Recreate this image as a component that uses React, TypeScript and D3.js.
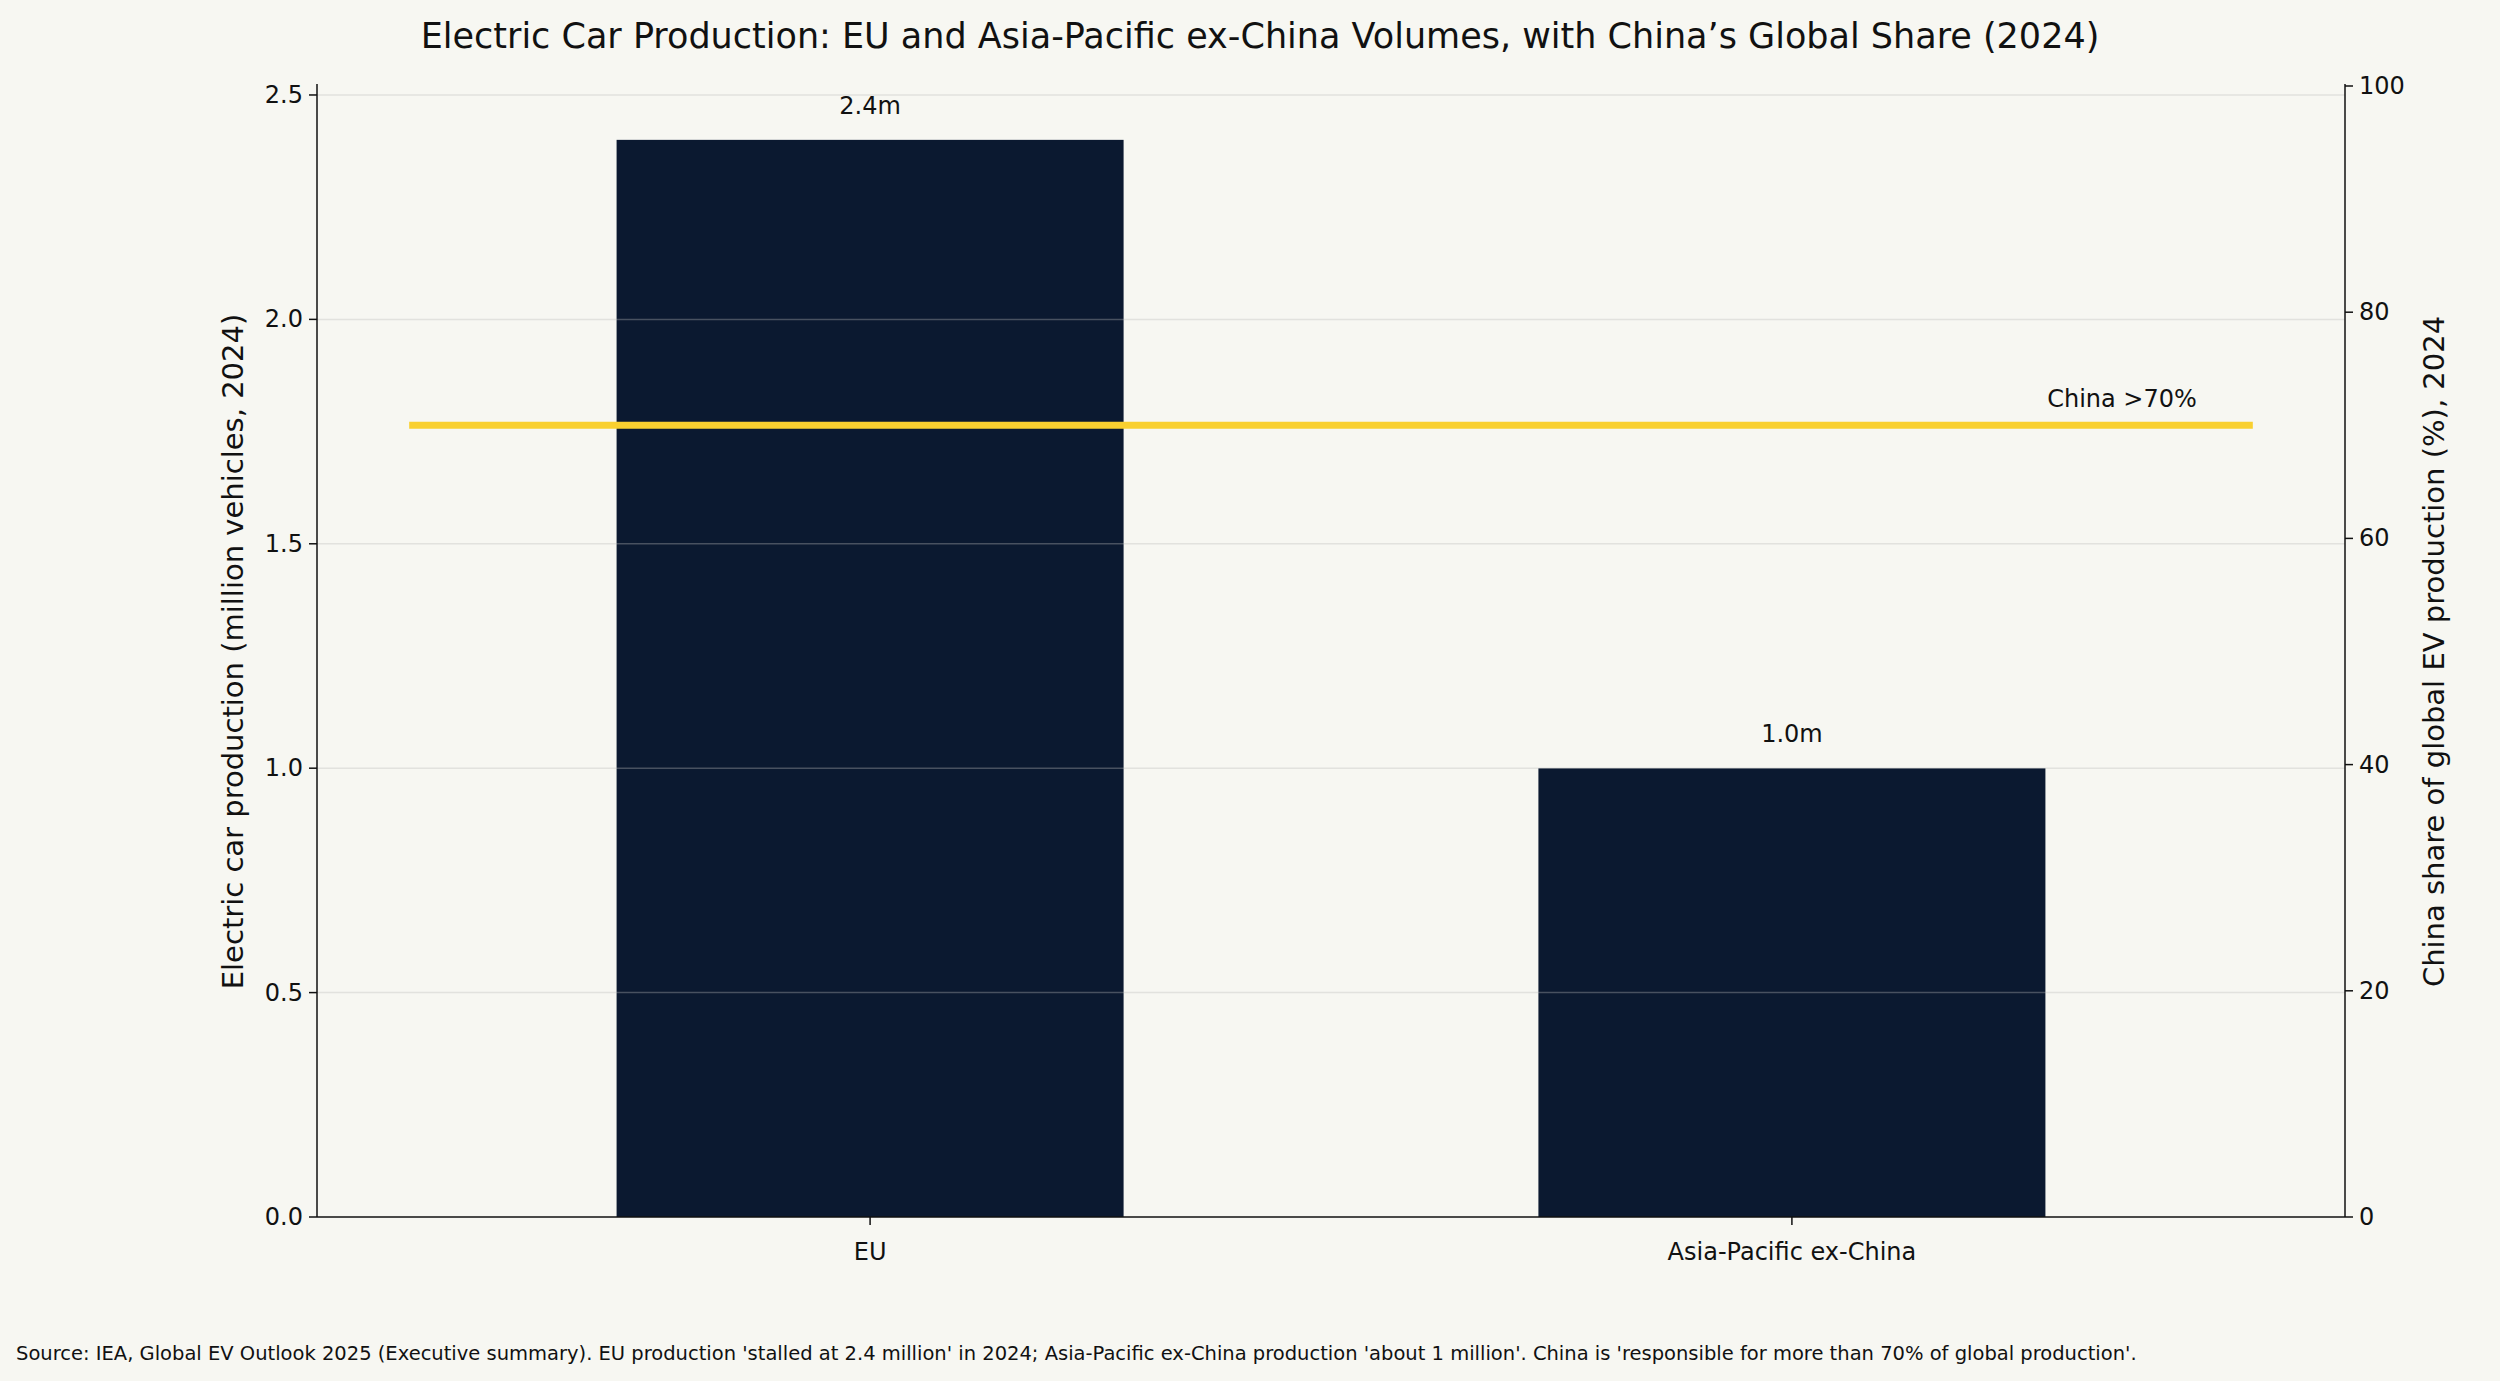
import React from "react";
import * as d3 from "d3";

const categories = ["EU", "Asia-Pacific ex-China"];
const production = [2.4, 1.0];
const barLabels = ["2.4m", "1.0m"];
const chinaShare = 70;
const leftTicks = [0, 0.5, 1.0, 1.5, 2.0, 2.5];
const rightTicks = [0, 20, 40, 60, 80, 100];

const W = 2500, H = 1381;
const L = 317, R = 2345, T = 86, B = 1217;
const font = "DejaVu Sans, sans-serif";

export default function App() {
  const x = d3.scaleLinear().domain([-0.6, 1.6]).range([L, R]);
  const y = d3.scaleLinear().domain([0, 2.52]).range([B, T]);
  const y2 = d3.scaleLinear().domain([0, 100]).range([B, T]);
  const bw = x(0.55) - x(0);
  return (
    <svg width={W} height={H} style={{ position: "absolute", left: 0, top: 0 }} fontFamily={font}>
      <rect width={W} height={H} fill="#f7f7f2" />
      <text x={W / 2 + 10} y={48} textAnchor="middle" fontSize={35} fill="#111">
        Electric Car Production: EU and Asia-Pacific ex-China Volumes, with China’s Global Share (2024)
      </text>
      {categories.map((c, i) => (
        <g key={c}>
          <rect x={x(i) - bw / 2} y={y(production[i])} width={bw} height={B - y(production[i])} fill="#0b1930" />
          <text x={x(i)} y={y(production[i]) - 26} textAnchor="middle" fontSize={24} fill="#111">{barLabels[i]}</text>
          <line x1={x(i)} x2={x(i)} y1={B} y2={B + 8} stroke="#111" strokeWidth={1.5} />
          <text x={x(i)} y={B + 43} textAnchor="middle" fontSize={24} fill="#111">{c}</text>
        </g>
      ))}
      {leftTicks.map((t) => (
        <g key={t}>
          {t > 0 && <line x1={L} x2={R} y1={y(t)} y2={y(t)} stroke="#bbb" strokeOpacity={0.35} strokeWidth={1.5} />}
          <line x1={L - 8} x2={L} y1={y(t)} y2={y(t)} stroke="#111" strokeWidth={1.5} />
          <text x={L - 14} y={y(t) + 8} textAnchor="end" fontSize={24} fill="#111">{t.toFixed(1)}</text>
        </g>
      ))}
      {rightTicks.map((t) => (
        <g key={t}>
          <line x1={R} x2={R + 8} y1={y2(t)} y2={y2(t)} stroke="#111" strokeWidth={1.5} />
          <text x={R + 14} y={y2(t) + 8} textAnchor="start" fontSize={24} fill="#111">{t}</text>
        </g>
      ))}
      <line x1={x(-0.5)} x2={x(1.5)} y1={y2(chinaShare)} y2={y2(chinaShare)} stroke="#f9d030" strokeWidth={7} />
      <text x={2122} y={y2(chinaShare) - 18} textAnchor="middle" fontSize={24} fill="#111">China &gt;70%</text>
      <line x1={L} x2={L} y1={T - 2} y2={B} stroke="#111" strokeWidth={1.5} />
      <line x1={R} x2={R} y1={T - 2} y2={B} stroke="#111" strokeWidth={1.5} />
      <line x1={L} x2={R} y1={B} y2={B} stroke="#111" strokeWidth={1.5} />
      <text transform={`translate(243,${(T + B) / 2}) rotate(-90)`} textAnchor="middle" fontSize={29} fill="#111">
        Electric car production (million vehicles, 2024)
      </text>
      <text transform={`translate(2444,${(T + B) / 2}) rotate(-90)`} textAnchor="middle" fontSize={29} fill="#111">
        China share of global EV production (%), 2024
      </text>
      <text x={16} y={1360} fontSize={19.5} fill="#111">
        Source: IEA, Global EV Outlook 2025 (Executive summary). EU production 'stalled at 2.4 million' in 2024; Asia-Pacific ex-China production 'about 1 million'. China is 'responsible for more than 70% of global production'.
      </text>
    </svg>
  );
}
